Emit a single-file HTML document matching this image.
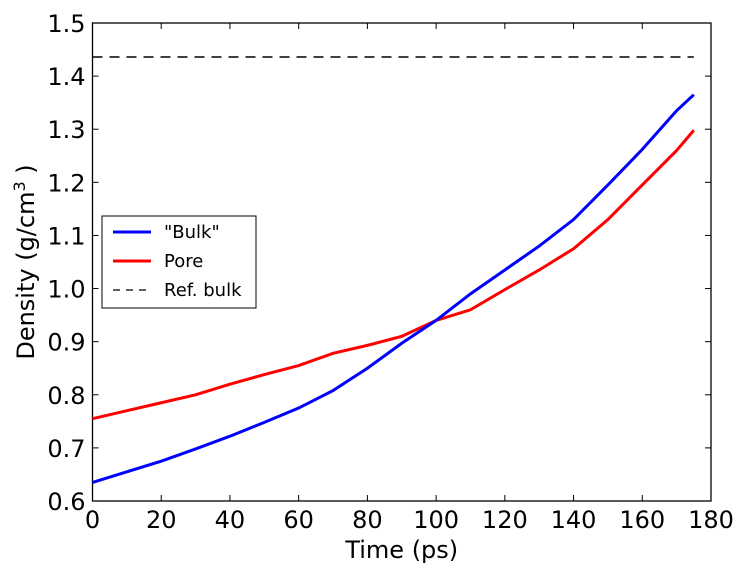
<!DOCTYPE html>
<html><head><meta charset="utf-8"><style>body{margin:0;background:#fff}svg{display:block;font-family:"DejaVu Sans","Liberation Sans",sans-serif}</style></head>
<body>
<svg id="c" width="743" height="572"></svg>
<script>
const times=[0,10,20,30,40,50,60,70,80,90,100,110,120,130,140,150,160,170,175];
const bulkVals=[0.635,0.655,0.675,0.698,0.722,0.748,0.775,0.808,0.850,0.897,0.94,0.99,1.035,1.08,1.13,1.195,1.262,1.335,1.365];
const poreVals=[0.755,0.77,0.785,0.80,0.82,0.838,0.855,0.878,0.893,0.91,0.94,0.96,0.998,1.035,1.075,1.13,1.195,1.26,1.298];
const refBulk=1.436;
const xTicks=[0,20,40,60,80,100,120,140,160,180];
const yTicks=[0.6,0.7,0.8,0.9,1.0,1.1,1.2,1.3,1.4,1.5];
const L=92.5,R=711,T=23,B=501;
const X=v=>L+(v-0)/180*(R-L), Y=v=>B-(v-0.6)/0.9*(B-T);
const svg=document.getElementById('c');const NS='http://www.w3.org/2000/svg';
function mk(t,a,p){const e=document.createElementNS(NS,t);for(const k in a)e.setAttribute(k,a[k]);(p||svg).appendChild(e);return e;}
const frame=mk('rect',{x:L,y:T,width:R-L,height:B-T,fill:'none',stroke:'#000','stroke-width':1.3});


xTicks.forEach(v=>{const x=X(v);
mk('line',{x1:x,x2:x,y1:B,y2:B-6,stroke:'#000'});mk('line',{x1:x,x2:x,y1:T,y2:T+6,stroke:'#000'});
const t=mk('text',{x:x,y:B+27,'text-anchor':'middle','font-size':24});t.textContent=v;

});
yTicks.forEach(v=>{const y=Y(v);
mk('line',{x1:L,x2:L+6,y1:y,y2:y,stroke:'#000'});mk('line',{x1:R,x2:R-6,y1:y,y2:y,stroke:'#000'});
const t=mk('text',{x:L-7,y:y+9,'text-anchor':'end','font-size':24});t.textContent=v.toFixed(1);

});
const ref=mk('line',{x1:X(0),x2:X(175),y1:Y(refBulk),y2:Y(refBulk),stroke:'#000','stroke-dasharray':'10,7','stroke-width':1.4});


function line(vals,col,name){const p=mk('polyline',{points:times.map((t,i)=>X(t)+','+Y(vals[i])).join(' '),fill:'none',stroke:col,'stroke-width':3});

}
line(poreVals,'#f00','pore-line');line(bulkVals,'#00f','bulk-line');
const xl=mk('text',{x:(L+R)/2,y:558,'text-anchor':'middle','font-size':24});xl.textContent='Time (ps)';


const yl=mk('text',{transform:`translate(34,${(T+B)/2}) rotate(-90)`,'text-anchor':'middle','font-size':24});
yl.innerHTML='Density (g/cm<tspan dy="-9" font-size="16">3</tspan><tspan dy="9"> )</tspan>';


const lg=mk('g',{});


mk('rect',{x:102,y:216,width:154,height:92,fill:'#fff',stroke:'#000'},lg);
[['"Bulk"','#00f',''],['Pore','#f00',''],['Ref. bulk','#000','7,6']].forEach((d,i)=>{const y=232+i*29;
mk('line',{x1:113,x2:151,y1:y,y2:y,stroke:d[1],'stroke-width':d[2]?1.3:3,'stroke-dasharray':d[2]||'none'},lg);
const t=mk('text',{x:164,y:y+6,'font-size':18},lg);t.textContent=d[0];

});
</script>
</body></html>
